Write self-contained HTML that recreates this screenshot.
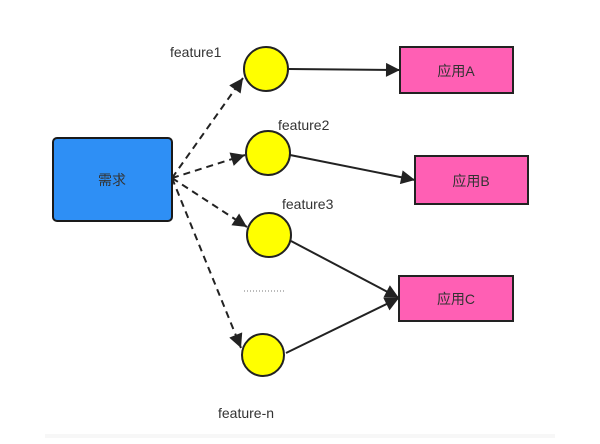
<!DOCTYPE html>
<html><head><meta charset="utf-8"><style>
html,body{margin:0;padding:0;background:#fff;}
svg{display:block;}
text{font-family:"Liberation Sans","Noto Sans CJK SC",sans-serif;font-size:14px;fill:#333;}
</style></head><body>
<svg width="600" height="444" viewBox="0 0 600 444" xmlns="http://www.w3.org/2000/svg">
<defs>
<marker id="ah" markerWidth="10" markerHeight="10" refX="9" refY="5" orient="auto" markerUnits="userSpaceOnUse">
<path d="M0,0 L10,5 L0,10 L2,5 z" fill="#222" transform="scale(1.6) translate(-3.5,-1.9)"/>
</marker>
<marker id="a2" viewBox="0 0 10 10" markerWidth="16" markerHeight="14" refX="10" refY="5" orient="auto" markerUnits="userSpaceOnUse">
<path d="M0,0 L10,5 L0,10 z" fill="#222"/>
</marker>
</defs>
<rect x="45" y="434" width="510" height="4" fill="#f7f7f7"/>
<rect x="53" y="138" width="119" height="83" rx="4" fill="#2e8ff5" stroke="#1a1a1a" stroke-width="2"/>
<text x="112" y="185" text-anchor="middle" font-size="15">需求</text>
<g stroke="#222" stroke-width="2" stroke-dasharray="7,5" fill="none">
<line x1="172" y1="178" x2="243" y2="78" marker-end="url(#a2)"/>
<line x1="172" y1="178" x2="245" y2="155" marker-end="url(#a2)"/>
<line x1="172" y1="178" x2="247" y2="227" marker-end="url(#a2)"/>
<line x1="172" y1="178" x2="241" y2="348" marker-end="url(#a2)"/>
</g>
<g stroke="#222" stroke-width="2" fill="none">
<line x1="289" y1="69" x2="400" y2="70" marker-end="url(#a2)"/>
<line x1="290" y1="155" x2="415" y2="180" marker-end="url(#a2)"/>
<line x1="291" y1="241" x2="399" y2="298" marker-end="url(#a2)"/>
<line x1="286" y1="353" x2="399" y2="298" marker-end="url(#a2)"/>
</g>
<g fill="#ffff00" stroke="#222" stroke-width="2">
<circle cx="266" cy="69" r="22"/>
<circle cx="268" cy="153" r="22"/>
<circle cx="269" cy="235" r="22"/>
<circle cx="263" cy="355" r="21"/>
</g>
<g fill="#ff5fb4" stroke="#222" stroke-width="2">
<rect x="400" y="47" width="113" height="46"/>
<rect x="415" y="156" width="113" height="48"/>
<rect x="399" y="276" width="114" height="45"/>
</g>
<text x="456" y="76" text-anchor="middle">应用A</text>
<text x="471" y="186" text-anchor="middle">应用B</text>
<text x="456" y="304" text-anchor="middle">应用C</text>
<text x="170" y="57">feature1</text>
<text x="278" y="130">feature2</text>
<text x="282" y="209">feature3</text>
<text x="218" y="418">feature-n</text>
<line x1="244" y1="291" x2="286" y2="291" stroke="#777" stroke-width="1" stroke-dasharray="1,2"/>
</svg>
</body></html>
